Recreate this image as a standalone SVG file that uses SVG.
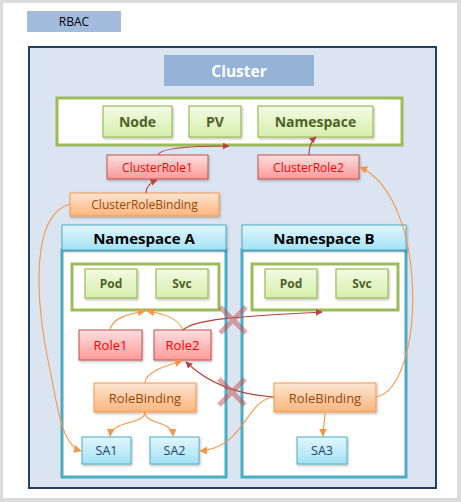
<svg xmlns="http://www.w3.org/2000/svg" width="461" height="502" viewBox="0 0 461 502">
<defs>
<linearGradient id="gGreen" x1="0" y1="0" x2="0" y2="1"><stop offset="0" stop-color="#f2fae4"/><stop offset="1" stop-color="#d6efab"/></linearGradient>
<linearGradient id="gPink" x1="0" y1="0" x2="0" y2="1"><stop offset="0" stop-color="#ffdede"/><stop offset="1" stop-color="#ff9a9a"/></linearGradient>
<linearGradient id="gOrange" x1="0" y1="0" x2="0" y2="1"><stop offset="0" stop-color="#fde6d2"/><stop offset="1" stop-color="#fbb57c"/></linearGradient>
<linearGradient id="gCyan" x1="0" y1="0" x2="0" y2="1"><stop offset="0" stop-color="#e2f6fc"/><stop offset="1" stop-color="#a3e2f5"/></linearGradient>
<filter id="sh" x="-10%" y="-10%" width="130%" height="140%"><feDropShadow dx="1" dy="1.5" stdDeviation="1" flood-color="#000" flood-opacity="0.25"/></filter>
<marker id="aR" viewBox="0 0 10 10" refX="9" refY="5" markerWidth="7" markerHeight="7" orient="auto-start-reverse" markerUnits="userSpaceOnUse"><path d="M0,0 L10,5 L0,10 z" fill="#b8433f"/></marker>
<marker id="aO" viewBox="0 0 10 10" refX="9" refY="5" markerWidth="8" markerHeight="8" orient="auto-start-reverse" markerUnits="userSpaceOnUse"><path d="M0,0 L10,5 L0,10 z" fill="#f79646"/></marker>
</defs>
<style>
text{font-family:"Open Sans","Noto Sans","DejaVu Sans",sans-serif;text-anchor:middle;dominant-baseline:central}
.res rect{fill:url(#gGreen);stroke:#9bbb59;stroke-width:1.2;filter:url(#sh)}
.res text{fill:#4f6228;font-weight:bold;font-size:14px}
.role rect{fill:url(#gPink);stroke:#c0504d;stroke-width:1;filter:url(#sh)}
.role text{fill:#ff0000;font-size:12px}
.bind rect{fill:url(#gOrange);stroke:#f79646;stroke-width:1;filter:url(#sh)}
.bind text{fill:#984807;font-size:12px}
.sa rect{fill:url(#gCyan);stroke:#4bacc6;stroke-width:1;filter:url(#sh)}
.sa text{fill:#1f3d6b;font-size:12.5px}
.gbox{fill:#fff;stroke:#9bbb59;stroke-width:3}
.cr{fill:none;stroke:#b8433f;stroke-width:1.1;marker-end:url(#aR)}
.co{fill:none;stroke:#f79646;stroke-width:1.1;marker-end:url(#aO)}
.x{stroke:#c0504d;stroke-opacity:0.5;stroke-width:5;stroke-linecap:butt}
</style>
<rect x="0" y="0" width="461" height="502" fill="#dcdcdc"/>
<rect x="3" y="3" width="454" height="495" fill="#ffffff"/>
<g id="rbac"><rect x="27" y="11" width="94" height="21" fill="#a3bbdd"/><text x="74" y="21.5" font-size="12" fill="#000">RBAC</text></g>
<g id="cluster-frame"><rect x="29" y="47" width="407" height="441" fill="#dbe5f1" stroke="#243f60" stroke-width="2"/></g>
<g id="cluster-title"><rect x="164" y="55" width="150" height="31" fill="#95b3d7"/><text x="239" y="70.5" font-size="15.5" font-weight="bold" fill="#fff">Cluster</text></g>
<g id="cluster-resources"><rect class="gbox" x="57" y="98" width="345" height="47"/></g>
<g id="node" class="res"><rect x="103" y="106" width="69" height="31"/><text x="137.5" y="121.5">Node</text></g>
<g id="pv" class="res"><rect x="189" y="106" width="52" height="31"/><text x="215" y="121.5">PV</text></g>
<g id="namespace" class="res"><rect x="258" y="106" width="115" height="31"/><text x="315.5" y="121.5">Namespace</text></g>
<g id="clusterrole1" class="role"><rect x="107" y="155" width="101" height="24"/><text x="157.5" y="167">ClusterRole1</text></g>
<g id="clusterrole2" class="role"><rect x="258" y="155" width="101" height="24"/><text x="308.5" y="167">ClusterRole2</text></g>
<g id="clusterrolebinding" class="bind"><rect x="70" y="193" width="149" height="23"/><text x="144.5" y="204.5">ClusterRoleBinding</text></g>
<g id="namespace-a"><rect x="62" y="250" width="164" height="227" fill="#fff" stroke="#4bacc6" stroke-width="3"/><rect x="62" y="225" width="164" height="25" fill="url(#gCyan)" stroke="#4bacc6" stroke-width="1" filter="url(#sh)"/><text x="144" y="238" font-size="15" font-weight="bold" fill="#000">Namespace A</text></g>
<g id="namespace-b"><rect x="242" y="250" width="164" height="227" fill="#fff" stroke="#4bacc6" stroke-width="3"/><rect x="242" y="225" width="164" height="25" fill="url(#gCyan)" stroke="#4bacc6" stroke-width="1" filter="url(#sh)"/><text x="324" y="238" font-size="15" font-weight="bold" fill="#000">Namespace B</text></g>
<g id="ns-a-resources"><rect class="gbox" x="72" y="264" width="147" height="46"/></g>
<g id="pod-a" class="res"><rect x="85" y="269" width="52" height="29"/><text x="111" y="283.5" style="font-size:12px">Pod</text></g>
<g id="svc-a" class="res"><rect x="156" y="269" width="52" height="29"/><text x="182" y="283.5" style="font-size:12px">Svc</text></g>
<g id="ns-b-resources"><rect class="gbox" x="252" y="264" width="146" height="46"/></g>
<g id="pod-b" class="res"><rect x="265" y="269" width="52" height="29"/><text x="291" y="283.5" style="font-size:12px">Pod</text></g>
<g id="svc-b" class="res"><rect x="336" y="269" width="52" height="29"/><text x="362" y="283.5" style="font-size:12px">Svc</text></g>
<g id="role1" class="role"><rect x="79" y="330" width="63" height="30"/><text x="110.5" y="345" style="font-size:13px">Role1</text></g>
<g id="role2" class="role"><rect x="154" y="330" width="57" height="30"/><text x="182.5" y="345" style="font-size:13px">Role2</text></g>
<g id="rolebinding-a" class="bind"><rect x="94" y="383" width="102" height="29"/><text x="145" y="397.5" style="font-size:13px">RoleBinding</text></g>
<g id="rolebinding-b" class="bind"><rect x="274" y="383" width="102" height="29"/><text x="325" y="397.5" style="font-size:13px">RoleBinding</text></g>
<g id="sa1" class="sa"><rect x="82" y="437" width="49" height="27"/><text x="106.5" y="450.5">SA1</text></g>
<g id="sa2" class="sa"><rect x="150" y="437" width="49" height="27"/><text x="174.5" y="450.5">SA2</text></g>
<g id="sa3" class="sa"><rect x="297" y="437" width="50" height="27"/><text x="322" y="450.5">SA3</text></g>
<g id="connectors">
<path class="cr" d="M158,155 C160,148 190,146 229,146"/>
<path class="cr" d="M309,155 C309,147 311,141 316,137"/>
<path class="cr" d="M146,193 C146,186 152,182 157,180"/>
<path class="co" d="M70,204 C30,215 35,300 50,370 C58,410 62,445 81,451"/>
<path class="co" d="M376,397 C425,388 430,200 360,167"/>
<path class="co" d="M110,330 C112,318 128,314 145,311"/>
<path class="co" d="M183,330 C178,318 165,314 147,311"/>
<path class="cr" d="M183,330 C195,318 250,316 322,312"/>
<path class="co" d="M145,383 C145,372 165,366 182,361"/>
<path class="cr" d="M274,397 C240,395 210,385 186,362"/>
<path class="co" d="M274,397 C245,400 245,448 200,451"/>
<path class="co" d="M145,412 C145,425 112,420 110,436"/>
<path class="co" d="M145,412 C145,425 172,420 173,436"/>
<path class="co" d="M325,412 C325,420 323,428 323,436"/>
</g>
<g id="blocked">
<path class="x" d="M220,307 L246,333 M246,307 L220,333"/>
<path class="x" d="M219,379 L245,405 M245,379 L219,405"/>
</g>
</svg>
